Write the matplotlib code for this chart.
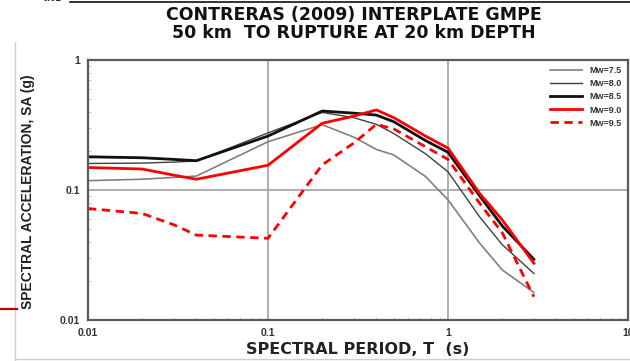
import numpy as np
import matplotlib
matplotlib.use("Agg")
import matplotlib.pyplot as plt
from matplotlib.lines import Line2D
from matplotlib.ticker import LogLocator, FixedLocator, FixedFormatter, NullFormatter

plt.rcParams['font.family'] = ['Liberation Sans', 'DejaVu Sans']

# spectral periods (s)
periods = [0.01, 0.02, 0.03, 0.04, 0.1, 0.2, 0.3, 0.4, 0.5, 0.75, 1.0, 1.5, 2.0, 3.0]

# spectral acceleration (g)
sa_75 = [0.118, 0.121, 0.125, 0.128, 0.235, 0.318, 0.255, 0.205, 0.186, 0.127, 0.084, 0.039, 0.0243, 0.0163]
sa_80 = [0.160, 0.161, 0.164, 0.167, 0.275, 0.395, 0.360, 0.320, 0.272, 0.190, 0.138, 0.062, 0.038, 0.0228]
sa_85 = [0.180, 0.177, 0.172, 0.168, 0.260, 0.405, 0.390, 0.377, 0.335, 0.240, 0.195, 0.090, 0.053, 0.0293]
sa_90 = [0.149, 0.145, 0.130, 0.121, 0.155, 0.326, 0.370, 0.413, 0.360, 0.260, 0.210, 0.094, 0.059, 0.0273]
sa_95 = [0.072, 0.066, 0.054, 0.045, 0.0425, 0.156, 0.230, 0.320, 0.295, 0.215, 0.172, 0.079, 0.047, 0.0151]

labels = ["Mw=7.5", "Mw=8.0", "Mw=8.5", "Mw=9.0", "Mw=9.5"]

fig = plt.figure(figsize=(6.3, 3.61), dpi=100)
ax = fig.add_axes([88 / 630, 41 / 361, 540 / 630, 260 / 361])

ax.plot(periods, sa_75, color="#808080", lw=1.2, label=labels[0])
ax.plot(periods, sa_80, color="#404040", lw=1.0, label=labels[1])
ax.plot(periods, sa_85, color="#111111", lw=2.0, label=labels[2])
ax.plot(periods, sa_90, color="#ff0000", lw=2.0, label=labels[3])
ax.plot(periods, sa_95, color="#ff0000", lw=2.0, ls=(0, (3, 2)), label=labels[4])

ax.set_xscale("log")
ax.set_yscale("log")
ax.set_xlim(0.01, 10)
ax.set_ylim(0.01, 1)

ax.xaxis.set_major_locator(FixedLocator([0.01, 0.1, 1, 10]))
ax.xaxis.set_major_formatter(FixedFormatter(["0.01", "0.1", "1", "10"]))
ax.yaxis.set_major_locator(FixedLocator([0.01, 0.1, 1]))
ax.yaxis.set_major_formatter(FixedFormatter(["0.01", "0.1", "1"]))
ax.xaxis.set_minor_locator(LogLocator(base=10, subs=np.arange(2, 10)))
ax.yaxis.set_minor_locator(LogLocator(base=10, subs=np.arange(2, 10)))
ax.xaxis.set_minor_formatter(NullFormatter())
ax.yaxis.set_minor_formatter(NullFormatter())

ax.tick_params(which="major", length=0, pad=6, labelsize=7.5, labelcolor="#333333")
ax.tick_params(which="minor", direction="in", length=2, color="#bbbbbb")
for lab in ax.get_xticklabels() + ax.get_yticklabels():
    lab.set_fontweight("bold")

ax.grid(True, which="major", color="#a8a8a8", lw=1.3)
for s in ax.spines.values():
    s.set_color("#5a5a5a")
    s.set_linewidth(1.6)

leg = ax.legend(loc="upper right", frameon=False, fontsize=6.5, handlelength=3.6,
                labelspacing=0.45, borderaxespad=0.3, markerfirst=True)
for t in leg.get_texts():
    t.set_fontweight("bold")
    t.set_color("#333333")

fig.text(358 / 630, 1 - 349 / 361, "SPECTRAL PERIOD, T  (s)", ha="center", va="center",
         fontsize=11.5, fontweight="bold", color="#222222", family="DejaVu Sans")
fig.text(28 / 630, 1 - 192 / 361, "SPECTRAL ACCELERATION, SA (g)", rotation=90,
         ha="center", va="center", fontsize=10, fontweight="bold", color="#222222")

fig.text(354 / 630, 1 - 15 / 361, "CONTRERAS (2009) INTERPLATE GMPE",
         ha="center", va="center", fontsize=12.5, fontweight="bold", color="#111111",
         family="DejaVu Sans")
fig.text(354 / 630, 1 - 33 / 361, "50 km  TO RUPTURE AT 20 km DEPTH",
         ha="center", va="center", fontsize=12.5, fontweight="bold", color="#111111",
         family="DejaVu Sans")

# screenshot remnants around the slide
fig.text(52 / 630, 1.005, "0.01", ha="center", va="center", fontsize=7,
         fontweight="bold", color="#333333")
fig.add_artist(Line2D([70 / 630, 1], [1 - 2 / 361] * 2, color="#111111", lw=1.2))
fig.add_artist(Line2D([15 / 630] * 2, [0, 1 - 42 / 361], color="#d0d0d0", lw=1.0))
fig.add_artist(Line2D([15 / 630, 1], [2 / 361] * 2, color="#d0d0d0", lw=1.0))
fig.add_artist(Line2D([0, 17 / 630], [1 - 309 / 361] * 2, color="#c00000", lw=1.6))

fig.savefig("out.png", dpi=100)
